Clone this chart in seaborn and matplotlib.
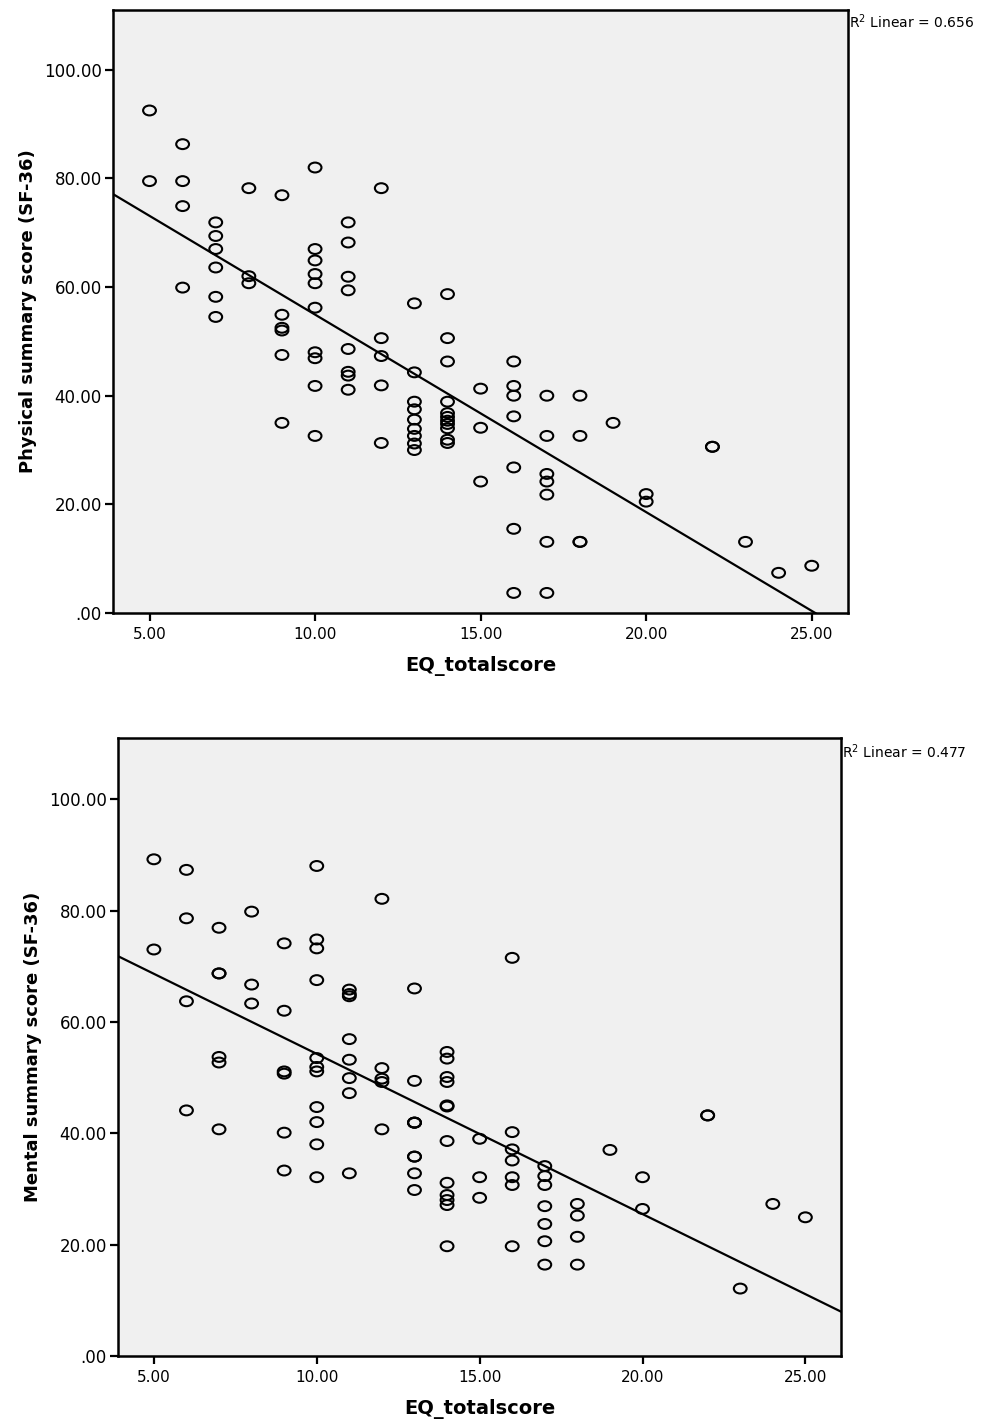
import matplotlib
matplotlib.use("Agg")
import matplotlib.pyplot as plt
from matplotlib.path import Path
from matplotlib.transforms import Affine2D
import numpy as np
import pandas as pd
import seaborn as sns

sns.set_style("ticks")
plt.rcParams["text.color"] = "black"
plt.rcParams["axes.labelcolor"] = "black"
plt.rcParams["xtick.color"] = "black"
plt.rcParams["ytick.color"] = "black"

# EQ total score per patient (x), grouped by score value
eq_phys = ([5] * 2 + [6] * 4 + [7] * 6 + [8] * 3 + [9] * 6 + [10] * 10 + [11] * 8
           + [12] * 5 + [13] * 9 + [14] * 11 + [15] * 3 + [16] * 7 + [17] * 7
           + [18] * 4 + [19] + [20] * 2 + [22] * 2 + [23] + [24] + [25])
physical = [92.5, 79.5,
            86.3, 79.5, 74.9, 59.9,
            71.9, 69.4, 67.0, 63.6, 58.2, 54.5,
            78.2, 62.0, 60.7,
            76.9, 54.9, 52.5, 52.0, 47.5, 35.0,
            82.0, 67.0, 64.9, 62.4, 60.7, 56.2, 48.0, 46.9, 41.8, 32.6,
            71.9, 68.2, 61.9, 59.4, 48.6, 44.4, 43.7, 41.1,
            78.2, 50.6, 47.3, 41.9, 31.3,
            57.0, 44.3, 38.9, 37.5, 35.6, 33.9, 32.6, 31.2, 30.0,
            58.7, 50.6, 46.3, 38.9, 36.8, 36.1, 35.4, 34.8, 34.0, 31.9, 31.3,
            41.3, 34.1, 24.2,
            46.3, 41.8, 40.0, 36.2, 26.8, 15.5, 3.7,
            40.0, 32.6, 25.6, 24.2, 21.8, 13.1, 3.7,
            40.0, 32.6, 13.1, 13.1,
            35.0,
            21.9, 20.5,
            30.6, 30.6,
            13.1,
            7.4,
            8.7]

eq_ment = ([5] * 2 + [6] * 4 + [7] * 6 + [8] * 3 + [9] * 6 + [10] * 11 + [11] * 8
           + [12] * 5 + [13] * 9 + [14] * 12 + [15] * 3 + [16] * 7 + [17] * 7
           + [18] * 4 + [19] + [20] * 2 + [22] * 2 + [23] + [24] + [25])
mental = [89.2, 73.0,
          87.3, 78.6, 63.7, 44.1,
          76.9, 68.7, 68.7, 53.7, 52.7, 40.7,
          79.8, 66.7, 63.3,
          74.1, 62.0, 51.1, 50.7, 40.1, 33.3,
          88.0, 74.8, 73.2, 67.5, 53.5, 51.9, 51.1, 44.7, 42.0, 38.0, 32.1,
          65.8, 65.0, 64.6, 56.9, 53.2, 49.9, 47.2, 32.8,
          82.1, 51.7, 49.8, 49.2, 40.7,
          66.0, 49.4, 41.9, 41.9, 41.9, 35.8, 35.8, 32.8, 29.8,
          54.6, 53.4, 50.1, 49.2, 45.0, 44.8, 38.6, 31.1, 28.9, 28.0, 27.1, 19.7,
          39.0, 32.1, 28.4,
          71.5, 40.2, 37.1, 35.1, 32.1, 30.7, 19.7,
          34.1, 32.3, 30.7, 26.9, 23.7, 20.6, 16.4,
          27.3, 25.2, 21.4, 16.4,
          37.0,
          32.1, 26.4,
          43.2, 43.2,
          12.1,
          27.3,
          24.9]

x_ticks = [5, 10, 15, 20, 25]
y_ticks = [0, 20, 40, 60, 80, 100]
x_title = "EQ_totalscore"
panels = [
    (eq_phys, physical, "Physical summary score (SF-36)", "R$^2$ Linear = 0.656"),
    (eq_ment, mental, "Mental summary score (SF-36)", "R$^2$ Linear = 0.477"),
]

# SPSS circles look slightly wide in the reference
ellipse = Path.unit_circle().transformed(Affine2D().scale(1.3, 1.0))

fig = plt.figure(figsize=(9.92, 14.24), dpi=100)
rects = [[0.114, 0.5695, 0.741, 0.4235], [0.119, 0.0478, 0.729, 0.434]]
r2_pos = [(0.856, 0.985), (0.849, 0.472)]


def fmt(v):
    s = "%.2f" % v
    return s[1:] if s.startswith("0") else s


for (xv, yv, ylab, r2), rect, (tx, ty) in zip(panels, rects, r2_pos):
    ax = fig.add_axes(rect)
    ax.set_facecolor("#f0f0f0")
    ax.set_xlim(3.9, 26.1)
    ax.set_ylim(0, 111)
    df = pd.DataFrame({"x": xv, "y": yv})
    sns.regplot(data=df, x="x", y="y", ax=ax, ci=None, truncate=False,
                marker=ellipse, color="black",
                scatter_kws=dict(s=85, facecolors="none", linewidths=1.5, alpha=1),
                line_kws=dict(lw=1.6, color="black"))
    ax.set_xticks(x_ticks)
    ax.set_xticklabels([fmt(v) for v in x_ticks], fontsize=11)
    ax.set_yticks(y_ticks)
    ax.set_yticklabels([fmt(v) for v in y_ticks], fontsize=12)
    ax.tick_params(length=6, width=1.6, direction="out", pad=2)
    ax.tick_params(axis="x", pad=4)
    for sp in ax.spines.values():
        sp.set_visible(True)
        sp.set_color("black")
        sp.set_linewidth(1.8)
    ax.set_xlabel(x_title, fontsize=14, fontweight="bold", labelpad=10)
    ax.set_ylabel(ylab, fontsize=13, fontweight="bold", labelpad=5)
    fig.text(tx, ty, r2, fontsize=10, ha="left", va="center")

fig.savefig("out.png", dpi=100, facecolor="white")
